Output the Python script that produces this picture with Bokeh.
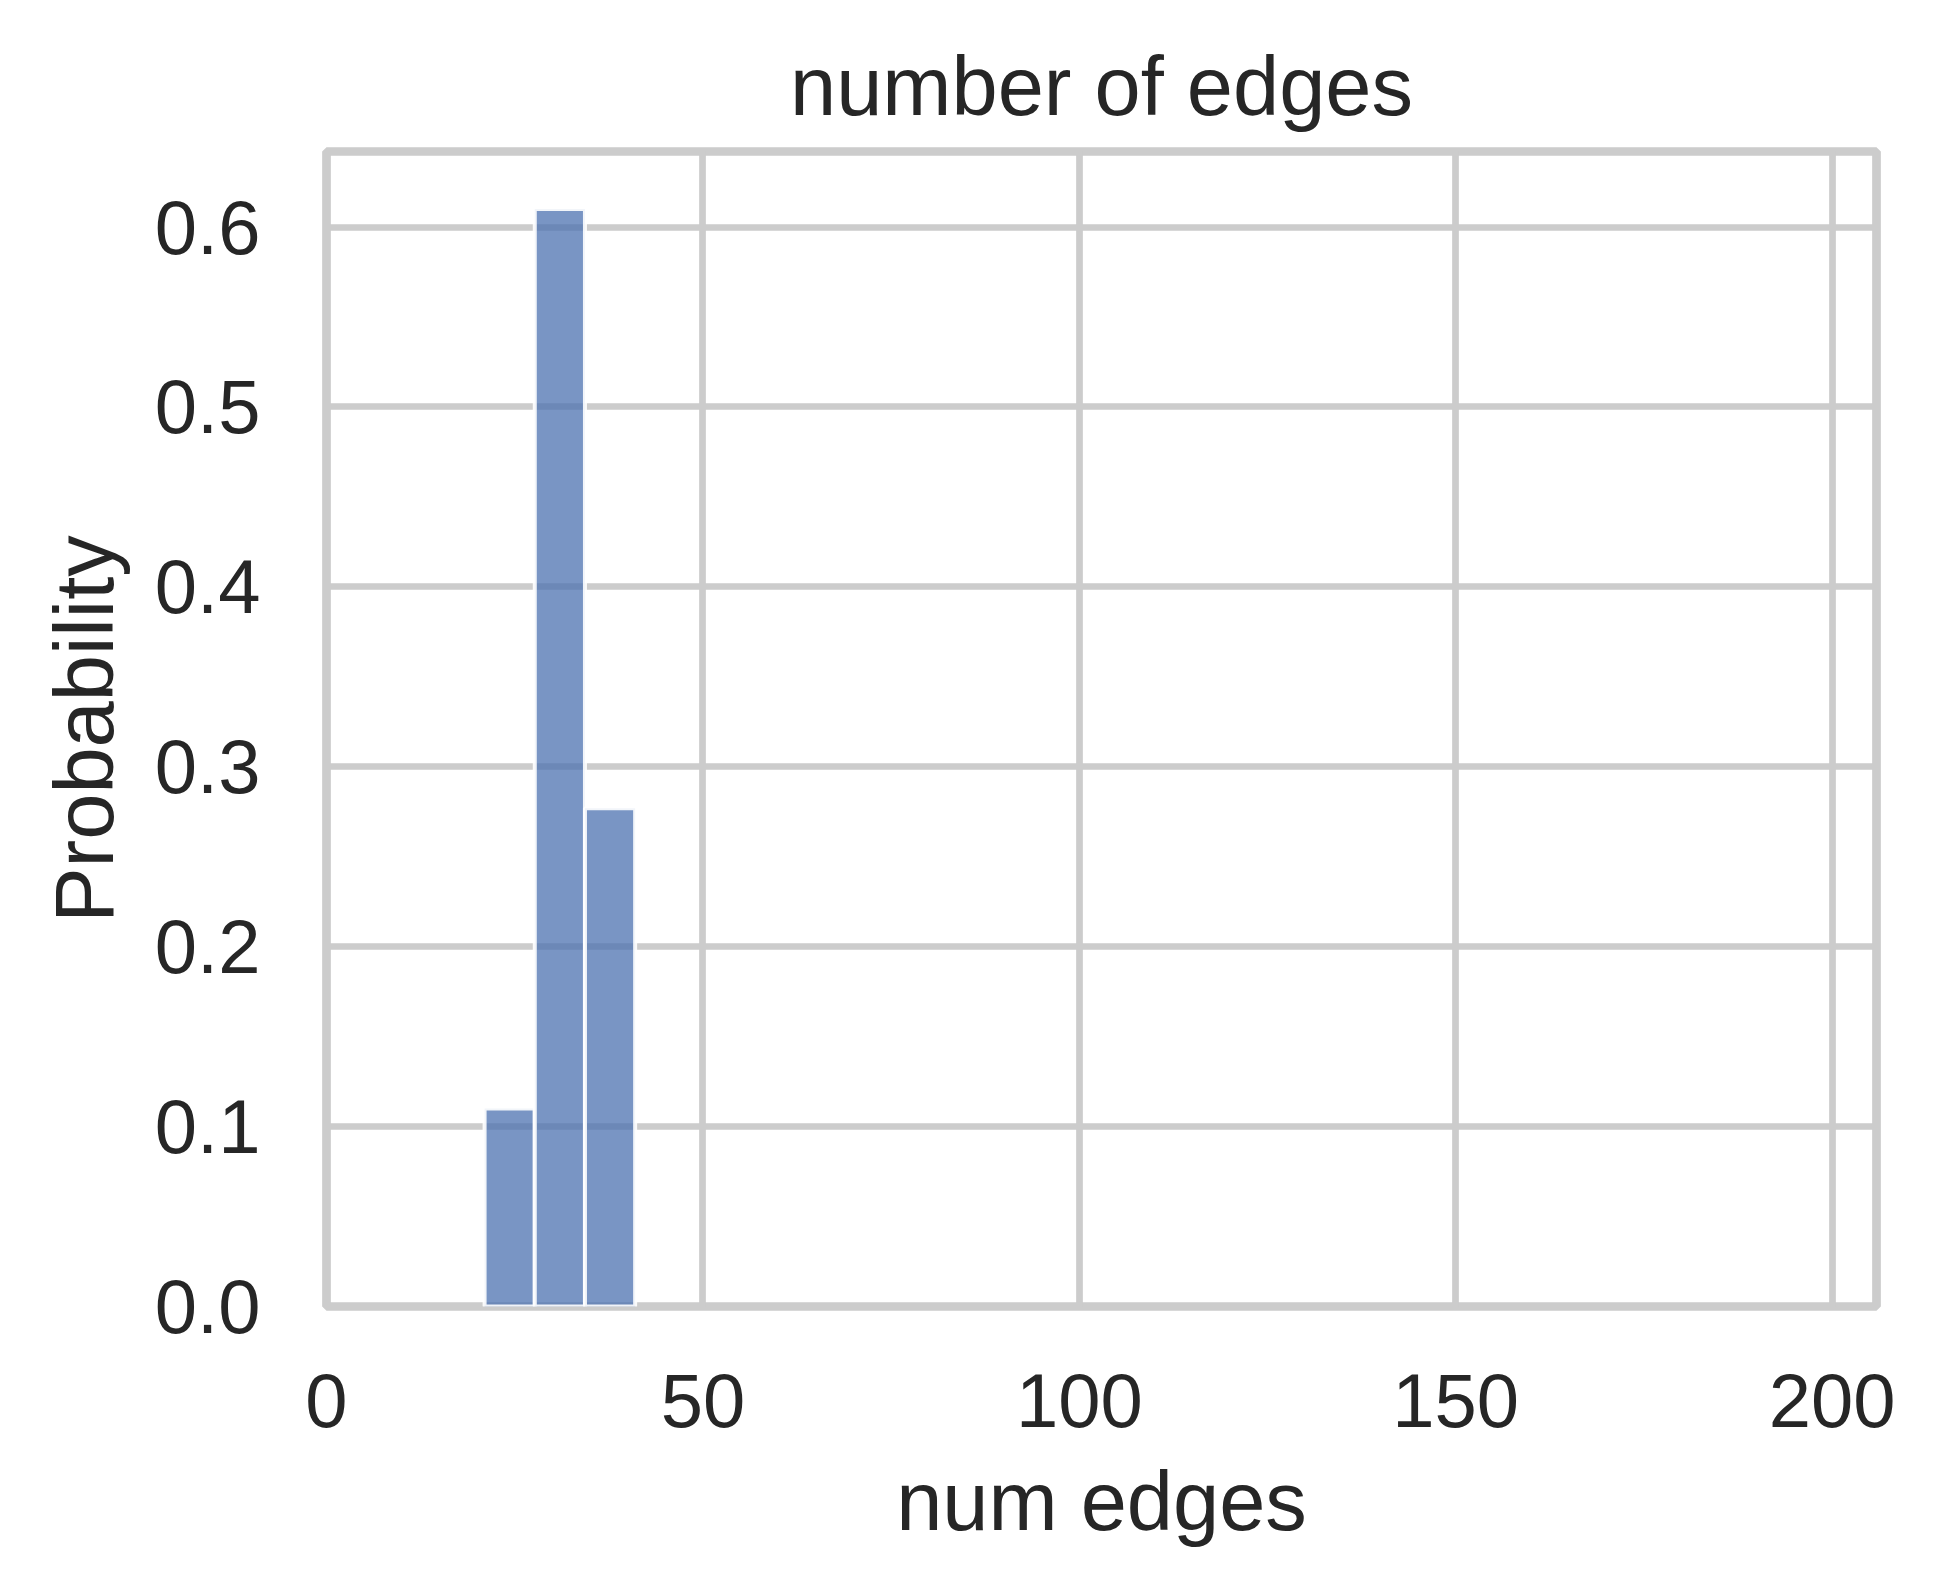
from bokeh.plotting import figure
from bokeh.models import Range1d, FixedTicker, PrintfTickFormatter
from bokeh.embed import file_html
from bokeh.resources import INLINE

# data
bin_edges = [21.0, 27.667, 34.333, 41.0]
probabilities = [0.110, 0.610, 0.277]
x_ticks = [0, 50, 100, 150, 200]
y_ticks = [0.0, 0.1, 0.2, 0.3, 0.4, 0.5, 0.6]
title_text = "number of edges"
x_label = "num edges"
y_label = "Probability"

FONT = "Liberation Sans"
TXT = "#262626"
GRID = "#cccccc"

p = figure(width=1928, height=1578, output_backend="svg", toolbar_location=None,
           x_range=Range1d(0, 205.9), y_range=Range1d(0, 0.642),
           min_border_left=326, min_border_right=52, min_border_top=151, min_border_bottom=272)

p.title.text = title_text
p.title.align = "center"
p.title.text_font = FONT
p.title.text_font_size = "83px"
p.title.text_font_style = "normal"
p.title.text_color = TXT
p.title.standoff = 38

p.quad(left=bin_edges[:-1], right=bin_edges[1:], bottom=0, top=probabilities,
       fill_color="#4C72B0", fill_alpha=0.75, line_color="white", line_width=4, line_alpha=0.9)

for ax in (p.xaxis[0], p.yaxis[0]):
    ax.axis_line_color = None
    ax.major_tick_line_color = None
    ax.minor_tick_line_color = None
    ax.major_tick_out = 0
    ax.major_tick_in = 0
    ax.major_label_text_font = FONT
    ax.major_label_text_font_size = "76px"
    ax.major_label_text_color = TXT
    ax.axis_label_text_font = FONT
    ax.axis_label_text_font_size = "83px"
    ax.axis_label_text_font_style = "normal"
    ax.axis_label_text_color = TXT

p.xaxis.ticker = FixedTicker(ticks=x_ticks)
p.yaxis.ticker = FixedTicker(ticks=y_ticks)
p.yaxis.formatter = PrintfTickFormatter(format="%.1f")
p.xaxis.axis_label = x_label
p.yaxis.axis_label = y_label
p.xaxis.major_label_standoff = 67
p.yaxis.major_label_standoff = 66
p.xaxis.axis_label_standoff = 25
p.yaxis.axis_label_standoff = 21

p.grid.grid_line_color = GRID
p.grid.grid_line_width = 6.7
p.xgrid.ticker = FixedTicker(ticks=x_ticks)
p.ygrid.ticker = FixedTicker(ticks=y_ticks)

p.outline_line_color = GRID
p.outline_line_width = 8.7
p.outline_line_alpha = 1.0
p.background_fill_color = "white"
p.border_fill_color = "white"

open("out.html", "w").write(file_html(p, INLINE))
